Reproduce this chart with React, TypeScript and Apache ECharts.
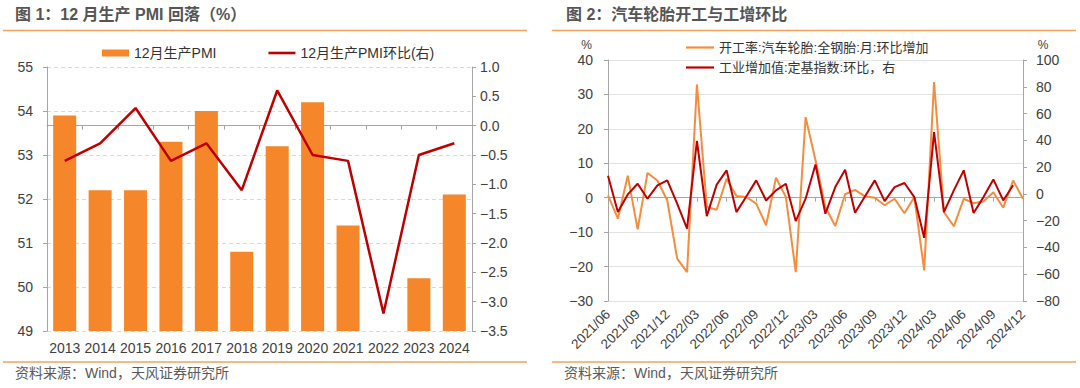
import React, { useEffect, useRef } from "react";
import * as echarts from "echarts";

// ---------- Figure 1 data ----------
const pmiYears = ["2013", "2014", "2015", "2016", "2017", "2018", "2019", "2020", "2021", "2022", "2023", "2024"];
const pmiDecProduction = [53.9, 52.2, 52.2, 53.3, 54.0, 50.8, 53.2, 54.2, 51.4, 44.6, 50.2, 52.1];
const pmiDecProductionMoM = [-0.6, -0.3, 0.3, -0.6, -0.3, -1.1, 0.6, -0.5, -0.6, -3.2, -0.5, -0.3];

// ---------- Figure 2 data ----------
const months = [
  "2021/06", "2021/07", "2021/08", "2021/09", "2021/10", "2021/11", "2021/12",
  "2022/01", "2022/02", "2022/03", "2022/04", "2022/05", "2022/06", "2022/07", "2022/08", "2022/09", "2022/10", "2022/11", "2022/12",
  "2023/01", "2023/02", "2023/03", "2023/04", "2023/05", "2023/06", "2023/07", "2023/08", "2023/09", "2023/10", "2023/11", "2023/12",
  "2024/01", "2024/02", "2024/03", "2024/04", "2024/05", "2024/06", "2024/07", "2024/08", "2024/09", "2024/10", "2024/11", "2024/12",
];
const tireOperatingMoM = [
  0.7, -6.1, 6.4, -9.2, 7.2, 5.0, -0.8,
  -17.7, -21.6, 32.9, -2.7, -3.5, 5.5, 0.5, 0.2, -1.7, -8.0, 5.8, 0.2,
  -21.6, 23.4, 10.9, -2.7, -8.2, 1.0, 2.3, 0.4, 0.0, -2.2, -0.3, -4.5,
  0.2, -21.1, 33.6, -4.2, -8.3, -0.3, -1.6, -1.1, 1.6, -2.9, 5.0, -0.3,
];
const industrialValueAddedMoM: (number | null)[] = [
  13.6, -13.6, -0.4, 7.6, -3.6, 6.4, 10.1,
  -7.3, -26.0, 39.5, -16.6, 6.9, 17.6, -13.6, -1.9, 10.1, -4.9, 2.6, 7.6,
  -20.3, -3.6, 22.0, -14.8, 5.1, 18.1, -14.1, -2.0, 10.1, -5.4, 5.1, 8.1,
  -2.4, -32.8, 46.2, -13.6, 2.6, 17.6, -14.3, -2.4, 10.8, -4.9, 6.4, null,
];

const FONT = "'Liberation Sans', Arial, 'Noto Sans CJK SC', sans-serif";
const AXIS_GRAY = "#A6A6A6";
const LABEL = "#404040";
const SEP = "#F3A35E";
const BAR_ORANGE = "#F5862A";
const LINE_ORANGE = "#F58C3E";
const DARK_RED = "#C00000";

const minusFmt = (digits: number) => (v: number) => v.toFixed(digits).replace("-", "\u2212");

export default function App() {
  const ref = useRef<HTMLDivElement>(null);

  useEffect(() => {
    document.body.style.margin = "0";
    if (!ref.current) return;
    const chart = echarts.init(ref.current, undefined, { renderer: "svg" });

    const option: any = {
      animation: false,
      textStyle: { fontFamily: FONT },
      grid: [
        { left: 47, top: 67, width: 425, height: 264, outerBoundsMode: "none", containLabel: false },
        { left: 608, top: 60, width: 415, height: 241, outerBoundsMode: "none", containLabel: false },
      ],
      legend: [
        {
          data: [
            { name: "12月生产PMI", icon: "rect" },
            { name: "12月生产PMI环比(右)", icon: "path://M0 0H27V2.6H0Z" },
          ],
          left: 97,
          top: 41,
          itemWidth: 27,
          itemHeight: 7,
          itemGap: 52,
          textStyle: { fontSize: 14, color: "#333", fontFamily: FONT },
        },
        {
          data: [
            { name: "开工率:汽车轮胎:全钢胎:月:环比增加", icon: "path://M0 0H28V2.2H0Z" },
            { name: "工业增加值:定基指数:环比，右", icon: "path://M0 0H28V2.2H0Z" },
          ],
          orient: "vertical",
          left: 681,
          top: 36,
          itemWidth: 28,
          itemHeight: 14,
          itemGap: 7,
          textStyle: { fontSize: 13, color: "#333", fontFamily: FONT },
        },
      ],
      xAxis: [
        {
          type: "category",
          gridIndex: 0,
          data: pmiYears,
          axisLine: { show: true, lineStyle: { color: AXIS_GRAY } },
          axisTick: { show: true, length: 4, lineStyle: { color: AXIS_GRAY } },
          axisLabel: { fontSize: 14, color: LABEL, margin: 10, interval: 0 },
        },
        {
          type: "category",
          gridIndex: 1,
          data: months,
          boundaryGap: false,
          axisLine: { show: true, onZero: true, onZeroAxisIndex: 2, lineStyle: { color: AXIS_GRAY } },
          axisTick: { show: true, length: 4, interval: 2, lineStyle: { color: AXIS_GRAY } },
          axisLabel: { fontSize: 13.5, color: LABEL, rotate: 45, interval: 2, margin: 11 },
        },
      ],
      yAxis: [
        {
          type: "value",
          gridIndex: 0,
          min: 49,
          max: 55,
          interval: 1,
          axisLine: { show: true, lineStyle: { color: AXIS_GRAY } },
          axisTick: { show: true, length: 4, lineStyle: { color: AXIS_GRAY } },
          axisLabel: { fontSize: 14, color: LABEL, margin: 14 },
          splitLine: { show: true, lineStyle: { color: "#D9D9D9", type: [4, 3] } },
        },
        {
          type: "value",
          gridIndex: 0,
          position: "right",
          min: -3.5,
          max: 1.0,
          interval: 0.5,
          axisLine: { show: true, lineStyle: { color: AXIS_GRAY } },
          axisTick: { show: true, length: 4, lineStyle: { color: AXIS_GRAY } },
          axisLabel: { fontSize: 14, color: LABEL, margin: 8, formatter: minusFmt(1) },
          splitLine: { show: false },
        },
        {
          type: "value",
          gridIndex: 1,
          min: -30,
          max: 40,
          interval: 10,
          axisLine: { show: true, lineStyle: { color: AXIS_GRAY } },
          axisTick: { show: true, length: 4, lineStyle: { color: AXIS_GRAY } },
          axisLabel: { fontSize: 14, color: LABEL, margin: 15, formatter: minusFmt(0) },
          splitLine: { show: true, lineStyle: { color: "#E3E3E3" } },
        },
        {
          type: "value",
          gridIndex: 1,
          position: "right",
          min: -80,
          max: 100,
          interval: 20,
          axisLine: { show: true, lineStyle: { color: AXIS_GRAY } },
          axisTick: { show: true, length: 4, lineStyle: { color: AXIS_GRAY } },
          axisLabel: { fontSize: 14, color: LABEL, margin: 13, formatter: minusFmt(0) },
          splitLine: { show: false },
        },
      ],
      series: [
        {
          name: "12月生产PMI",
          type: "bar",
          xAxisIndex: 0,
          yAxisIndex: 0,
          data: pmiDecProduction,
          barWidth: "65%",
          itemStyle: { color: BAR_ORANGE },
        },
        {
          name: "12月生产PMI环比(右)",
          type: "line",
          xAxisIndex: 0,
          yAxisIndex: 1,
          data: pmiDecProductionMoM,
          symbol: "none",
          itemStyle: { color: DARK_RED },
          lineStyle: { color: DARK_RED, width: 2.5 },
        },
        {
          name: "开工率:汽车轮胎:全钢胎:月:环比增加",
          type: "line",
          xAxisIndex: 1,
          yAxisIndex: 2,
          data: tireOperatingMoM,
          symbol: "none",
          itemStyle: { color: LINE_ORANGE },
          lineStyle: { color: LINE_ORANGE, width: 2 },
        },
        {
          name: "工业增加值:定基指数:环比，右",
          type: "line",
          xAxisIndex: 1,
          yAxisIndex: 3,
          data: industrialValueAddedMoM,
          symbol: "none",
          itemStyle: { color: DARK_RED },
          lineStyle: { color: DARK_RED, width: 2 },
        },
      ],
      graphic: [
        {
          type: "text",
          left: 15,
          top: 6,
          style: { text: "图 1：12 月生产 PMI 回落（%）", fontSize: 16, fontWeight: "bold", fill: "#555555", fontFamily: FONT },
        },
        {
          type: "text",
          left: 566,
          top: 6,
          style: { text: "图 2：汽车轮胎开工与工增环比", fontSize: 16, fontWeight: "bold", fill: "#555555", fontFamily: FONT },
        },
        { type: "line", shape: { x1: 3, y1: 30.5, x2: 527, y2: 30.5 }, style: { stroke: SEP, lineWidth: 1.5 } },
        { type: "line", shape: { x1: 552, y1: 30.5, x2: 1076, y2: 30.5 }, style: { stroke: SEP, lineWidth: 1.5 } },
        { type: "line", shape: { x1: 3, y1: 362, x2: 527, y2: 362 }, style: { stroke: SEP, lineWidth: 1.5 } },
        { type: "line", shape: { x1: 552, y1: 362, x2: 1076, y2: 362 }, style: { stroke: SEP, lineWidth: 1.5 } },
        {
          type: "text",
          left: 15,
          top: 366,
          style: { text: "资料来源：Wind，天风证券研究所", fontSize: 14, fill: "#595959", fontFamily: FONT },
        },
        {
          type: "text",
          left: 564,
          top: 366,
          style: { text: "资料来源：Wind，天风证券研究所", fontSize: 14, fill: "#595959", fontFamily: FONT },
        },
        {
          type: "text",
          x: 586.5,
          y: 45,
          style: { text: "%", fontSize: 12, fill: LABEL, align: "center", verticalAlign: "middle", fontFamily: FONT },
        },
        {
          type: "text",
          x: 1043,
          y: 45,
          style: { text: "%", fontSize: 12, fill: LABEL, align: "center", verticalAlign: "middle", fontFamily: FONT },
        },
      ],
    };

    chart.setOption(option);
    return () => chart.dispose();
  }, []);

  return <div ref={ref} style={{ width: 1080, height: 388 }} />;
}
